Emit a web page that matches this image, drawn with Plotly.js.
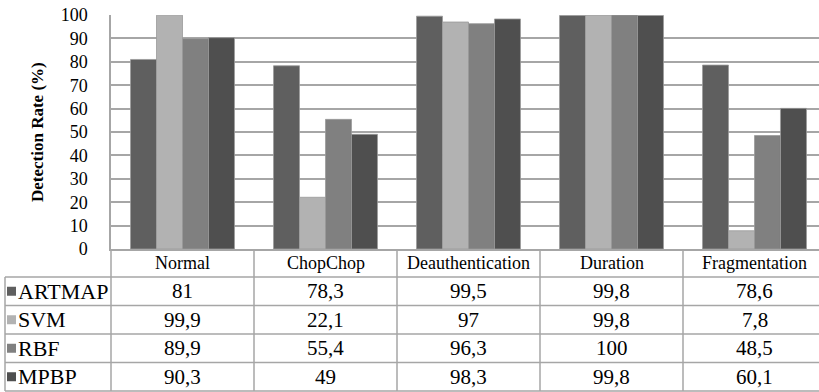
<!DOCTYPE html>
<html>
<head>
<meta charset="utf-8">
<script src="https://cdn.plot.ly/plotly-3.0.1.min.js"></script>
<style>html,body{margin:0;padding:0;background:#fff;}#chart{width:819px;height:392px;}</style>
</head>
<body>
<div id="chart"></div>
<script>
var categories = ['Normal', 'ChopChop', 'Deauthentication', 'Duration', 'Fragmentation'];
var seriesNames = ['ARTMAP', 'SVM', 'RBF', 'MPBP'];
var artmap = [81, 78.3, 99.5, 99.8, 78.6];
var svm = [99.9, 22.1, 97, 99.8, 7.8];
var rbf = [89.9, 55.4, 96.3, 100, 48.5];
var mpbp = [90.3, 49, 98.3, 99.8, 60.1];
var yTicks = [0, 10, 20, 30, 40, 50, 60, 70, 80, 90, 100];

var seriesValues = [artmap, svm, rbf, mpbp];
var colors = ['#5f5f5f', '#b2b2b2', '#808080', '#4f4f4f'];
var FONT = 'Liberation Serif';

var W = 819, H = 392;
var mL = 111, mR = 0, mT = 15, mB = 143;
var plotW = W - mL - mR, plotH = H - mT - mB;
function px(x) { return (x - mL) / plotW; }
function py(y) { return (H - mB - y) / plotH; }

var traces = seriesNames.map(function (name, i) {
  return {
    type: 'bar',
    name: name,
    x: categories,
    y: seriesValues[i],
    marker: { color: colors[i], line: { color: '#9a9a9a', width: 0.8 } },
    hoverinfo: 'x+y+name'
  };
});

var lineColor = '#a6a6a6';
var shapes = [];
var annotations = [];
var rowEdges = [277, 305.5, 334, 362.5, 391];
rowEdges.forEach(function (y) {
  shapes.push({ type: 'line', xref: 'paper', yref: 'paper', x0: px(5), x1: 1, y0: py(y), y1: py(y),
    line: { color: lineColor, width: 1.5 } });
});
shapes.push({ type: 'line', xref: 'paper', yref: 'paper', x0: px(5), x1: px(5), y0: py(277), y1: py(391),
  line: { color: lineColor, width: 1.5 } });
shapes.push({ type: 'line', xref: 'paper', yref: 'paper', x0: 0, x1: 0, y0: py(249), y1: py(391),
  line: { color: lineColor, width: 1.5 } });
for (var c = 0; c < categories.length; c++) {
  shapes.push({ type: 'line', xref: 'x', yref: 'paper', x0: c + 0.5, x1: c + 0.5, y0: py(249), y1: py(391),
    line: { color: lineColor, width: 1.5 } });
}
seriesNames.forEach(function (name, i) {
  var yc = (rowEdges[i] + rowEdges[i + 1]) / 2;
  shapes.push({ type: 'rect', xref: 'paper', yref: 'paper', x0: px(7), x1: px(16), y0: py(yc - 4.5), y1: py(yc + 4.5),
    fillcolor: colors[i], line: { width: 0 } });
  annotations.push({ xref: 'paper', yref: 'paper', x: px(16), y: py(yc), xanchor: 'left', yanchor: 'middle',
    text: name, showarrow: false, font: { family: FONT, size: 22, color: '#000' } });
  seriesValues[i].forEach(function (v, j) {
    annotations.push({ xref: 'x', yref: 'paper', x: j, y: py(yc), xanchor: 'center', yanchor: 'middle',
      text: String(v).replace('.', ','), showarrow: false,
      font: { family: FONT, size: 21, color: '#000' } });
  });
});
categories.forEach(function (cat, j) {
  annotations.push({ xref: 'x', yref: 'paper', x: j, y: py(263), xanchor: 'center', yanchor: 'middle',
    text: cat, showarrow: false, font: { family: FONT, size: 18, color: '#000' } });
});
annotations.push({ xref: 'paper', yref: 'paper', x: px(37), y: py(132), xanchor: 'center', yanchor: 'middle',
  textangle: -90, text: '<b>Detection Rate (%)</b>', showarrow: false,
  font: { family: FONT, size: 17, color: '#000' } });

var layout = {
  width: W, height: H,
  margin: { l: mL, r: mR, t: mT, b: mB, pad: 0 },
  paper_bgcolor: '#fff', plot_bgcolor: '#fff',
  font: { family: FONT, color: '#000' },
  barmode: 'group', bargap: 0.273, bargroupgap: 0,
  showlegend: false,
  separators: ',.',
  xaxis: {
    type: 'category', range: [-0.5, -0.5 + plotW / 143], showticklabels: false,
    showgrid: false, zeroline: false, showline: true, linecolor: lineColor, linewidth: 1.5,
    ticks: '', fixedrange: true
  },
  yaxis: {
    range: [0, 100], tickvals: yTicks, ticktext: yTicks.map(String),
    showgrid: true, gridcolor: lineColor, gridwidth: 1.5, zeroline: false,
    showline: true, linecolor: lineColor, linewidth: 1.5,
    ticks: '', ticklabelstandoff: 18,
    tickfont: { family: FONT, size: 18, color: '#000' }, fixedrange: true
  },
  shapes: shapes,
  annotations: annotations
};

Plotly.newPlot('chart', traces, layout, { displayModeBar: false });
</script>
</body>
</html>
